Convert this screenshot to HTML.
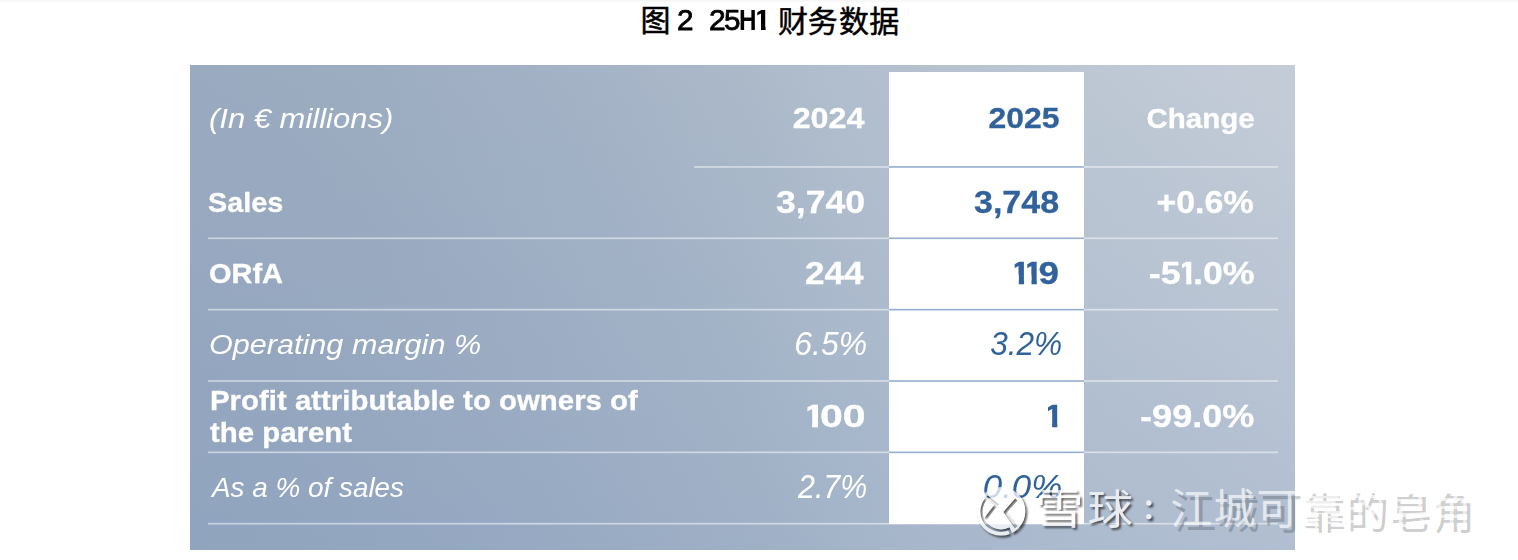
<!DOCTYPE html>
<html lang="zh"><head><meta charset="utf-8"><title>图 2 25H1 财务数据</title>
<style>
html,body{margin:0;padding:0;background:#fff;}
body{width:1518px;height:560px;position:relative;overflow:hidden;font-family:"Liberation Sans",sans-serif;}
.abs{position:absolute;}
#title-svg{left:0;top:0;width:1518px;height:60px;}
.tnum{font-weight:normal;font-size:29px;line-height:32px;color:#000;white-space:pre;transform-origin:0 0;-webkit-text-stroke:0.75px #000;}
.tb{font-weight:bold;-webkit-text-stroke:0;}
.one{display:inline-block;margin-left:-0.075em;margin-right:-0.136em;clip-path:polygon(0.115em 0,0.374em 0,0.374em 100%,0.230em 100%,0.230em calc(16px + 0.05em),0.115em calc(16px + 0.05em));}
#tbl{left:190px;top:65px;width:1105px;height:485px;
 background:linear-gradient(180deg,rgba(112,142,186,0) 0%,rgba(112,142,186,0.22) 100%),linear-gradient(90deg,rgb(154,170,192) 0.0%,rgb(155,171,192) 8.3%,rgb(157,173,193) 16.7%,rgb(160,175,195) 25.0%,rgb(163,178,197) 33.3%,rgb(167,181,199) 41.7%,rgb(171,185,201) 50.0%,rgb(177,190,205) 58.3%,rgb(182,193,208) 66.7%,rgb(186,197,210) 75.0%,rgb(190,200,212) 83.3%,rgb(193,202,214) 91.7%,rgb(196,204,215) 100.0%);}
#col{left:889px;top:72px;width:195px;height:452px;background:#fff;}
.t{color:#fff;font-size:28px;line-height:32px;white-space:nowrap;}
.b{font-weight:bold;-webkit-text-stroke:0.3px currentColor;}
.i{font-style:italic;}
.r{text-align:right;transform-origin:100% 50%;}
.l{transform-origin:0 50%;}
.blue{color:#31629b;}
#wm{left:0;top:0;width:1518px;height:560px;}
</style></head><body>
<svg id="title-svg" class="abs" viewBox="0 0 1518 60" role="img" aria-label="图 2 25H1 财务数据"><g fill="#000" stroke="#000" stroke-width="0.5" stroke-linejoin="round" font-family="'Liberation Sans','Noto Sans CJK SC',sans-serif" font-size="30">
<text x="640.5" y="31.4">图</text>
<text x="778" y="31.7">财</text>
<text x="807.8" y="31.7">务</text>
<text x="838.9" y="31.6">数</text>
<text x="869.3" y="31.6">据</text>
</g></svg>
<div class="abs tnum" id="n0" style="left:677.43px;top:4.1px;transform:scaleX(1.024);">2</div>
<div class="abs tnum" id="n1" style="left:709.04px;top:4.1px;transform:scaleX(1.034);">2</div>
<div class="abs tnum" id="n2" style="left:724.01px;top:4.1px;transform:scaleX(1.021);">5</div>
<div class="abs tnum tb" id="n3" style="left:739.18px;top:4.1px;transform:scaleX(0.835);">H</div>
<div class="abs tnum tb" id="n4" style="left:756.17px;top:4.1px;transform:scaleX(1.105);"><span class="one">1</span></div>


<div class="abs" style="left:0;top:0;width:1518px;height:3px;background:linear-gradient(180deg,#f4f4f4,#fff)"></div>
<div id="tbl" class="abs"></div>
<div id="col" class="abs"></div>
<svg id="lines" class="abs" style="left:0;top:0;width:1518px;height:560px" viewBox="0 0 1518 560">
<rect x="694" y="166.10" width="584" height="1.7" fill="#fff" fill-opacity="0.5"/>
<rect x="889" y="166.15" width="195" height="1.6" fill="#94aed0"/>
<rect x="208" y="237.45" width="1070" height="1.7" fill="#fff" fill-opacity="0.5"/>
<rect x="889" y="237.50" width="195" height="1.6" fill="#94aed0"/>
<rect x="208" y="308.80" width="1070" height="1.7" fill="#fff" fill-opacity="0.5"/>
<rect x="889" y="308.85" width="195" height="1.6" fill="#94aed0"/>
<rect x="208" y="380.15" width="1070" height="1.7" fill="#fff" fill-opacity="0.5"/>
<rect x="889" y="380.20" width="195" height="1.6" fill="#94aed0"/>
<rect x="208" y="451.50" width="1070" height="1.7" fill="#fff" fill-opacity="0.5"/>
<rect x="889" y="451.55" width="195" height="1.6" fill="#94aed0"/>
<rect x="208" y="522.85" width="1070" height="1.7" fill="#fff" fill-opacity="0.5"/>
</svg>
<div id="h0" class="abs t i l" style="left:209.20px;font-size:28px;line-height:32px;top:102.90px;transform:scaleX(1.1066);">(In € millions)</div>
<div id="h1" class="abs t b r" style="right:653.34px;font-size:29px;line-height:32px;top:102.45px;transform:scaleX(1.1139);">2024</div>
<div id="h2" class="abs t b blue r" style="right:458.16px;font-size:29px;line-height:32px;top:102.45px;transform:scaleX(1.1020);">2025</div>
<div id="h3" class="abs t b r" style="right:263.74px;font-size:28px;line-height:32px;top:103.10px;transform:scaleX(1.0538);">Change</div>
<div id="a0" class="abs t b l" style="left:208.16px;font-size:28px;line-height:32px;top:187.30px;transform:scaleX(1.0269);">Sales</div>
<div id="a1" class="abs t b r" style="right:652.53px;font-size:32px;line-height:32px;top:185.91px;transform:scaleX(1.1132);">3,740</div>
<div id="a2" class="abs t b blue r" style="right:459.00px;font-size:32px;line-height:32px;top:185.91px;transform:scaleX(1.0625);">3,748</div>
<div id="a3" class="abs t b r" style="right:263.97px;font-size:32px;line-height:32px;top:185.91px;transform:scaleX(1.0612);">+0.6%</div>
<div id="b0" class="abs t b l" style="left:208.79px;font-size:28px;line-height:32px;top:258.30px;transform:scaleX(1.0349);">ORfA</div>
<div id="b1" class="abs t b r" style="right:654.64px;font-size:32px;line-height:32px;top:257.21px;transform:scaleX(1.0954);">244</div>
<div id="b2" class="abs t b blue r" style="right:458.69px;font-size:32px;line-height:32px;top:257.21px;transform:scaleX(1.1474);"><span class="one">1</span><span class="one">1</span>9</div>
<div id="b3" class="abs t b r" style="right:263.83px;font-size:32px;line-height:32px;top:257.21px;transform:scaleX(1.1176);">-5<span class="one">1</span>.0%</div>
<div id="c0" class="abs t i l" style="left:209.37px;font-size:28px;line-height:32px;top:329.30px;transform:scaleX(1.0929);">Operating margin %</div>
<div id="c1" class="abs t i r" style="right:650.89px;font-size:33px;line-height:32px;top:328.37px;transform:scaleX(0.9690);">6.5%</div>
<div id="c2" class="abs t i blue r" style="right:456.24px;font-size:33px;line-height:32px;top:328.37px;transform:scaleX(0.9578);">3.2%</div>
<div id="d0" class="abs t b l" style="left:209.78px;font-size:28px;line-height:32px;top:384.60px;transform:scaleX(1.0498);">Profit attributable to owners of<br>the parent</div>
<div id="d1" class="abs t b r" style="right:652.36px;font-size:32px;line-height:32px;top:399.91px;transform:scaleX(1.2836);"><span class="one">1</span>00</div>
<div id="d2" class="abs t b blue r" style="right:458.88px;font-size:32px;line-height:32px;top:399.91px;transform:scaleX(1.1393);"><span class="one">1</span></div>
<div id="d3" class="abs t b r" style="right:263.85px;font-size:32px;line-height:32px;top:399.91px;transform:scaleX(1.1271);">-99.0%</div>
<div id="e0" class="abs t i l" style="left:211.88px;font-size:28px;line-height:32px;top:471.90px;transform:scaleX(0.9952);">As a % of sales</div>
<div id="e1" class="abs t i r" style="right:651.03px;font-size:33px;line-height:32px;top:470.77px;transform:scaleX(0.9202);">2.7%</div>
<div id="e2" class="abs t i blue r" style="right:456.01px;font-size:33px;line-height:32px;top:470.77px;transform:scaleX(1.0560);">0.0%</div>

<svg id="wm" class="abs" viewBox="0 0 1518 560" role="img" aria-label="雪球：江城可靠的皂角">
<defs>
<filter id="bl" x="-10%" y="-20%" width="120%" height="150%"><feGaussianBlur stdDeviation="1.3"/></filter>
<mask id="lm" maskUnits="userSpaceOnUse" x="970" y="480" width="64" height="64">
<circle cx="1001" cy="511.3" r="24.3" fill="#fff"/>
<g fill="none" stroke="#000" stroke-linejoin="miter">
<path stroke-width="3.4" d="M986.6 496.8 L996.5 504.8 L985.3 519.2"/>
<path stroke-width="3.4" d="M1016.5 499.5 L1005.4 512 L1016.2 527.2"/>
<path stroke-width="2.6" d="M982.05 494.24 L986.58 498.32 A19.4 19.4 0 0 0 1008.89 529.02 L1011.37 534.59"/>
</g>
</mask>
<g id="brand">
<rect x="970" y="480" width="64" height="64" mask="url(#lm)"/>
<text x="1035.5" y="524.4" font-family="'Liberation Sans','Noto Sans CJK SC',sans-serif" font-size="41.5" textLength="48" lengthAdjust="spacingAndGlyphs">雪</text>
<text x="1087.4" y="523.7" font-family="'Liberation Sans','Noto Sans CJK SC',sans-serif" font-size="41.2" textLength="45.4" lengthAdjust="spacingAndGlyphs">球</text>
<circle cx="1148.8" cy="503" r="2.7"/><circle cx="1148.8" cy="516.6" r="2.7"/>
</g>
<mask id="ko" maskUnits="userSpaceOnUse" x="960" y="470" width="220" height="90">
<rect x="960" y="470" width="220" height="90" fill="#fff"/>
<use href="#brand" fill="#000"/>
</mask>
</defs>
<g mask="url(#ko)"><use href="#brand" fill="#000" fill-opacity="0.62" filter="url(#bl)" transform="translate(2 2.1)"/></g>
<use href="#brand" fill="#fff" fill-opacity="0.74"/>
<g fill="#000" fill-opacity="0.21" transform="translate(4 4.4)">
<text x="1170.2 1213.4 1256.6 1299.8 1343 1386.2 1429.4" y="524.2" font-family="'Liberation Sans','Noto Sans CJK SC',sans-serif" font-size="42">江城可靠的皂角</text>
</g>
<g fill="#fff" fill-opacity="0.68">
<text x="1170.2 1213.4 1256.6 1299.8 1343 1386.2 1429.4" y="524.2" font-family="'Liberation Sans','Noto Sans CJK SC',sans-serif" font-size="42">江城可靠的皂角</text>
</g>
</svg>
</body></html>
